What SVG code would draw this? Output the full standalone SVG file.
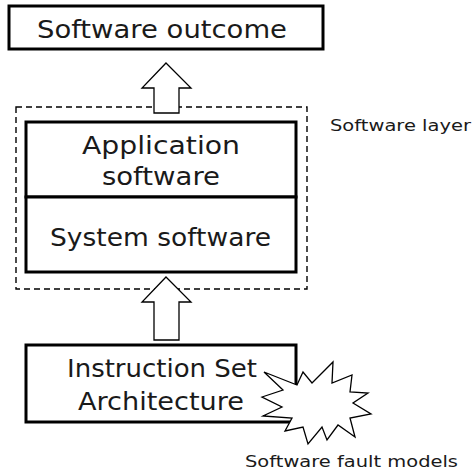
<svg xmlns="http://www.w3.org/2000/svg" width="472" height="472" viewBox="0 0 472 472">
<style>
.box{fill:#fff;stroke:#000;stroke-width:3}
.arrow{fill:#fff;stroke:#000;stroke-width:1.3;stroke-linejoin:miter}
.big{font-family:"DejaVu Sans","Liberation Sans",sans-serif;font-size:24px;fill:#1a1a1a;text-anchor:middle}
.small{font-family:"DejaVu Sans","Liberation Sans",sans-serif;font-size:15px;fill:#1a1a1a}
</style>
<rect width="472" height="472" fill="#fff"/>
<g id="software-outcome">
<rect class="box" x="9" y="6" width="314" height="43"/>
<text class="big" x="162" y="38" textLength="250" lengthAdjust="spacingAndGlyphs">Software outcome</text>
</g>
<g id="software-layer">
<rect x="16" y="107" width="291" height="182" fill="none" stroke="#000" stroke-width="1.4" stroke-dasharray="6,4"/>
<text class="small" x="330" y="131" textLength="141" lengthAdjust="spacingAndGlyphs">Software layer</text>
</g>
<g id="application-software">
<rect class="box" x="26" y="122" width="270" height="75"/>
<text class="big" x="161" y="154" textLength="158" lengthAdjust="spacingAndGlyphs">Application</text>
<text class="big" x="161" y="185" textLength="118" lengthAdjust="spacingAndGlyphs">software</text>
</g>
<g id="system-software">
<rect class="box" x="26" y="197" width="270" height="75"/>
<text class="big" x="160.5" y="246" textLength="221" lengthAdjust="spacingAndGlyphs">System software</text>
</g>
<g id="isa">
<rect class="box" x="26" y="345" width="270" height="77"/>
<text class="big" x="162" y="377" textLength="190" lengthAdjust="spacingAndGlyphs">Instruction Set</text>
<text class="big" x="161" y="410" textLength="166" lengthAdjust="spacingAndGlyphs">Architecture</text>
</g>
<g id="connectors">
<polygon class="arrow" points="166,63 191,88 179,88 179,113 154,113 154,88 142,88"/>
<polygon class="arrow" points="166,277 191,302 179,302 179,340 154,340 154,302 142,302"/>
</g>
<g id="software-fault-models">
<polygon fill="#fff" stroke="#000" stroke-width="1.3" points="264,372 297,385 303,372 312,383 333,362 332,383 352,375 350,392 368,393 353,403 371,414 350,418 355,437 338,425 327,440 322,427 308,444 303,427 285,431 292,418 263,416 282,407 262,397 283,390"/>
<text class="small" x="245" y="467" textLength="213" lengthAdjust="spacingAndGlyphs">Software fault models</text>
</g>
</svg>
